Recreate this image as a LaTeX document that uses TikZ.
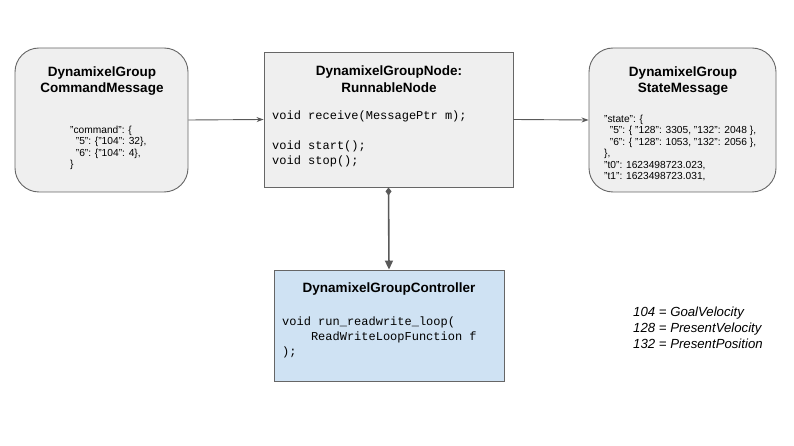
\documentclass[tikz,border=0pt]{standalone}
\usepackage{fontspec}
\setmainfont{Liberation Sans}
\setmonofont{Liberation Mono}
\usetikzlibrary{arrows.meta}
\definecolor{boxgray}{HTML}{EFEFEF}
\definecolor{boxline}{HTML}{666666}
\definecolor{boxblue}{HTML}{CFE2F3}
\definecolor{arr}{HTML}{595959}
\begin{document}
\begin{tikzpicture}[x=1pt,y=-1pt,
  msgbox/.style={draw=boxline,fill=boxgray,line width=0.9pt,rounded corners=24pt,inner sep=0pt},
  classbox/.style={draw=boxline,fill=boxgray,line width=0.9pt,inner sep=0pt},
  ctrlbox/.style={draw=boxline,fill=boxblue,line width=0.9pt,inner sep=0pt},
  title/.style={font=\fontsize{13.5}{16.5}\selectfont\bfseries,align=center,inner sep=0pt},
  json/.style={font=\fontsize{10.2}{11.4}\selectfont,align=left,anchor=north west,inner sep=0pt},
  code/.style={font=\fontsize{12}{15}\selectfont\ttfamily,align=left,anchor=north west,inner sep=0pt},
  legend/.style={font=\fontsize{13.2}{16}\selectfont\itshape,align=left,anchor=north west,inner sep=0pt},
  conn/.style={draw=arr,line width=0.9pt,-{Stealth[length=7pt,width=5pt]}},
  comp/.style={draw=arr,line width=1.6pt,{Diamond[length=8pt,width=6pt]}-{Triangle[length=9pt,width=8pt]}}
]
\useasboundingbox (0,0) rectangle (794,446);
\fill[white] (0,0) rectangle (794,446);

\node[msgbox,minimum width=173pt,minimum height=144pt] (cmd) at (101.5,120) {};
\node[classbox,minimum width=249pt,minimum height=135pt] (node) at (388.5,119.5) {};
\node[msgbox,minimum width=187pt,minimum height=144pt] (state) at (682.5,120) {};
\node[ctrlbox,minimum width=230pt,minimum height=111pt] (ctrl) at (389,325.5) {};

\node[title] (cmdtitle) at (102,81) {DynamixelGroup\\CommandMessage};
\node[json] (cmdjson) at (70,126) {"command": \{\\\ \ "5": \{"104": 32\},\\\ \ "6": \{"104": 4\},\\\}};

\node[title] (nodetitle) at (389,79) {DynamixelGroupNode:\\RunnableNode};
\node[code] (nodecode) at (272,111) {void receive(MessagePtr m);\\[15pt]void start();\\void stop();};

\node[title] (statetitle) at (683,81) {DynamixelGroup\\StateMessage};
\node[json] (statejson) at (604,115) {"state": \{\\\ \ "5": \{ "128": 3305, "132": 2048 \},\\\ \ "6": \{ "128": 1053, "132": 2056 \},\\\},\\"t0": 1623498723.023,\\"t1": 1623498723.031,};

\node[title] (ctrltitle) at (389,289) {DynamixelGroupController};
\node[code] (ctrlcode) at (282,317) {void run\_readwrite\_loop(\\\ \ \ \ ReadWriteLoopFunction f\\);};

\node[legend] (leg) at (633,307) {104 = GoalVelocity\\128 = PresentVelocity\\132 = PresentPosition};

\draw[conn] (cmd.east) -- (node.west);
\draw[conn] (node.east) -- (state.west);
\draw[comp] (node.south) -- (ctrl.north);
\end{tikzpicture}
\end{document}
